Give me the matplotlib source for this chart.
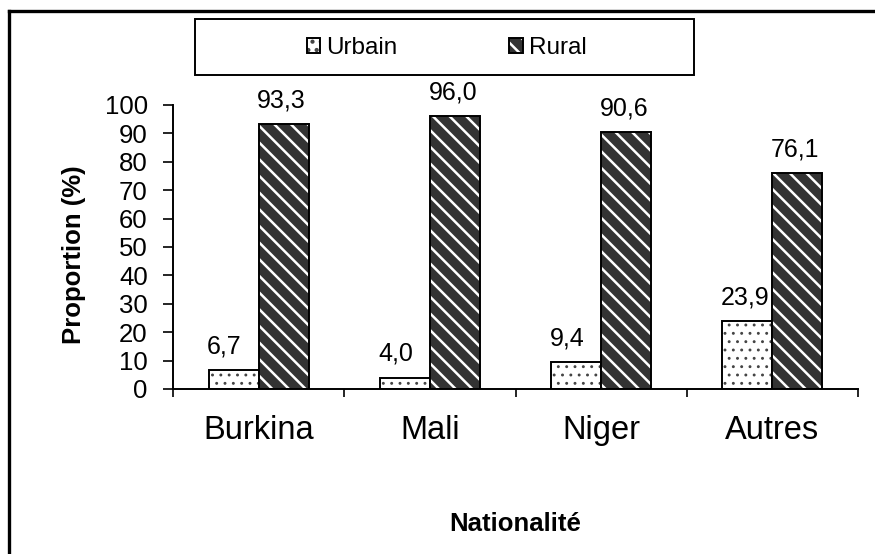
import numpy as np
import matplotlib.pyplot as plt
from matplotlib.lines import Line2D
from matplotlib.patches import Rectangle
from matplotlib.ticker import FixedLocator, NullFormatter

plt.rcParams['font.family'] = ['Liberation Sans', 'DejaVu Sans']
plt.rcParams['hatch.linewidth'] = 1.8

# données
nationalites = ['Burkina', 'Mali', 'Niger', 'Autres']
urbain = [6.7, 4.0, 9.4, 23.9]
rural = [93.3, 96.0, 90.6, 76.1]

fig = plt.figure(figsize=(8.75, 5.54), dpi=100)
ax = fig.add_axes([173 / 875, 1 - 389 / 554, (858 - 173) / 875, (389 - 105) / 554])

x = np.arange(len(nationalites))
w = 0.292

# Urbain : blanc avec petites marques
with plt.rc_context({'hatch.linewidth': 0.9}):
    bu_fill = ax.bar(x - w / 2, urbain, w, color='white', edgecolor='#444444',
                     hatch='..', linewidth=0)
for p in bu_fill:
    if hasattr(p, 'set_hatch_linewidth'):
        p.set_hatch_linewidth(0.9)
bu_edge = ax.bar(x - w / 2, urbain, w, color='none', edgecolor='black', linewidth=1.4)
# Rural : gris foncé avec rayures blanches
br_fill = ax.bar(x + w / 2, rural, w, color='#333333', edgecolor='white',
                 hatch='\\\\', linewidth=0)
br_edge = ax.bar(x + w / 2, rural, w, color='none', edgecolor='black', linewidth=1.4)

for bars, vals in ((bu_edge, urbain), (br_edge, rural)):
    for b, v in zip(bars, vals):
        ax.annotate(f'{v:.1f}'.replace('.', ','), (b.get_x(), v),
                    xytext=(-1, 12), textcoords='offset points',
                    ha='left', va='baseline', fontsize=18)

ax.set_ylim(0, 100)
ax.set_xlim(-0.5, len(nationalites) - 0.5)
ax.set_yticks(np.arange(0, 101, 10))
ax.tick_params(axis='y', direction='out', length=7.2, width=1.2, pad=11, labelsize=18.5)

ax.xaxis.set_major_locator(FixedLocator(np.arange(-0.5, len(nationalites), 1.0)))
ax.xaxis.set_major_formatter(NullFormatter())
ax.set_xticks(x, minor=True)
ax.set_xticklabels(nationalites, minor=True, fontsize=23.5)
ax.tick_params(axis='x', which='major', direction='out', length=6, width=1.2)
ax.tick_params(axis='x', which='minor', length=0, pad=19)

for s in ('top', 'right'):
    ax.spines[s].set_visible(False)
for s in ('left', 'bottom'):
    ax.spines[s].set_linewidth(1.4)

fig.text(74 / 875, 1 - 255 / 554, 'Proportion (%)', rotation=90, ha='center',
         va='center', fontsize=18.5, fontweight='bold')
fig.text(515.5 / 875, 1 - 531 / 554, 'Nationalité', ha='center', va='baseline',
         fontsize=18.5, fontweight='bold')

# légende
fig.add_artist(Rectangle((195 / 875, 1 - 75 / 554), (694 - 195) / 875, 56 / 554,
                         transform=fig.transFigure, facecolor='white',
                         edgecolor='black', linewidth=1.4))
fig.legend([(bu_fill, bu_edge), (br_fill, br_edge)], ['Urbain', 'Rural'],
           loc='center', bbox_to_anchor=(446.5 / 875, 1 - 48 / 554), ncol=2,
           frameon=False, fontsize=17.5, handlelength=0.55, handleheight=0.55,
           handletextpad=0.25, columnspacing=4.6, borderpad=0)

# cadre
fig.add_artist(Line2D([9 / 875, 1], [1 - 11 / 554, 1 - 11 / 554],
                      transform=fig.transFigure, color='black', linewidth=2.4))
fig.add_artist(Line2D([9 / 875, 9 / 875], [0, 1 - 11 / 554],
                      transform=fig.transFigure, color='black', linewidth=2.4))

fig.savefig('out.png', dpi=100)
